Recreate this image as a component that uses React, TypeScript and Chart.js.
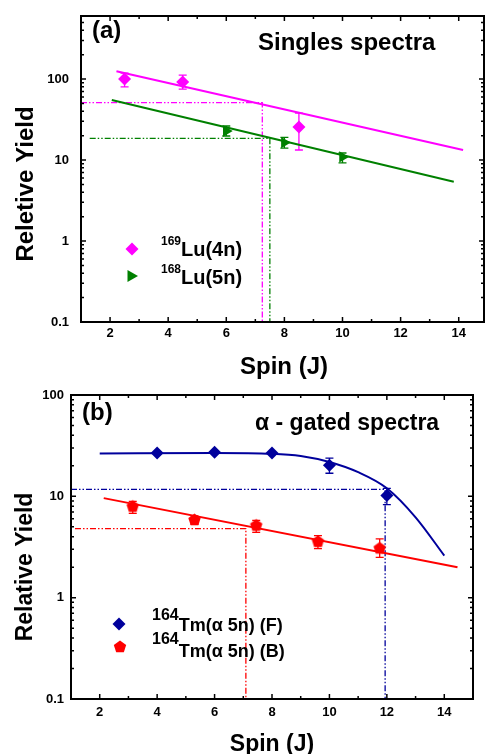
import React, { useEffect, useRef } from 'react';
import { Chart, registerables } from 'chart.js';
Chart.register(...registerables);

const FONT = '"Liberation Sans", Arial, Helvetica, sans-serif';

// ---------- shared ticks ----------
const X_TICKS = [2, 4, 6, 8, 10, 12, 14];
const Y_TICKS = [0.1, 1, 10, 100];

// ---------- panel (a) ----------
const A_X_RANGE = [1, 14.87];
const A_Y_RANGE = [0.1, 600];
const LU169_J = [2.5, 4.5, 8.5];
const LU169_Y = [100, 92, 25.6];
const LU169_LO = [80, 75, 13.3];
const LU169_HI = [118, 112, 38];
const LU168_J = [6, 8, 10];
const LU168_Y = [22.8, 16.4, 10.9];
const LU168_LO = [19.8, 14, 9.2];
const LU168_HI = [26.3, 19, 12.2];
const FIT169_J = [2.22, 14.15];
const FIT169_Y = [125, 13.3];
const FIT168_J = [2.06, 13.83];
const FIT168_Y = [55, 5.4];
const GUIDE169_J = [1, 7.24, 7.24];
const GUIDE169_Y = [51, 51, 0.1];
const GUIDE168_J = [1.3, 7.5, 7.5];
const GUIDE168_Y = [18.5, 18.5, 0.1];

// ---------- panel (b) ----------
const B_X_RANGE = [1, 15];
const B_Y_RANGE = [0.1, 100];
const TMF_J = [4, 6, 8, 10, 12];
const TMF_Y = [26.7, 27.2, 26.7, 20.3, 10.2];
const TMF_LO = [26, 26.5, 26, 16.9, 8.3];
const TMF_HI = [27.4, 27.9, 27.4, 23.8, 12.0];
const TMB_J = [3.15, 5.3, 7.45, 9.6, 11.75];
const TMB_Y = [8.0, 5.9, 5.2, 3.6, 3.1];
const TMB_LO = [6.8, 5.3, 4.4, 3.05, 2.5];
const TMB_HI = [8.9, 6.4, 5.8, 4.1, 3.8];
const CURVE_F_J = [2, 6, 8, 9, 10, 11, 12, 13, 14];
const CURVE_F_Y = [26.5, 26.8, 26.3, 25, 21.8, 17.3, 12, 6.2, 2.6];
const FIT_B_J = [2.14, 14.46];
const FIT_B_Y = [9.6, 2.0];
const GUIDE_F_J = [1, 11.94, 11.94];
const GUIDE_F_Y = [11.7, 11.7, 0.1];
const GUIDE_B_J = [1.14, 7.09, 7.09];
const GUIDE_B_Y = [4.8, 4.8, 0.1];

const MAG = '#FF00FF';
const GRN = '#008000';
const BLU = '#00009C';
const RED = '#FF0000';
const DASH = [6, 2, 1.5, 2, 1.5, 2];

const pts = (xs: number[], ys: number[]) => xs.map((x, i) => ({ x, y: ys[i] }));

function drawShape(ctx: CanvasRenderingContext2D, shape: string, x: number, y: number, r: number, color: string) {
  ctx.save();
  ctx.fillStyle = color;
  ctx.beginPath();
  if (shape === 'diamond') {
    ctx.moveTo(x, y - r);
    ctx.lineTo(x + r, y);
    ctx.lineTo(x, y + r);
    ctx.lineTo(x - r, y);
  } else if (shape === 'triRight') {
    ctx.moveTo(x + r, y);
    ctx.lineTo(x - r * 0.5, y - r * 0.866);
    ctx.lineTo(x - r * 0.5, y + r * 0.866);
  } else {
    for (let k = 0; k < 5; k++) {
      const a = -Math.PI / 2 + (k * 2 * Math.PI) / 5;
      const px = x + r * Math.cos(a);
      const py = y + r * Math.sin(a);
      if (k === 0) ctx.moveTo(px, py);
      else ctx.lineTo(px, py);
    }
  }
  ctx.closePath();
  ctx.fill();
  ctx.restore();
}

function pentagonImage(color: string, r: number) {
  const c = document.createElement('canvas');
  const s = Math.ceil(r * 2 + 2);
  c.width = s;
  c.height = s;
  const ctx = c.getContext('2d')!;
  drawShape(ctx, 'pentagon', s / 2, s / 2 + 0.5, r, color);
  return c;
}

type TextItem = { t: string; x: number; y: number; size: number; align?: CanvasTextAlign; rot?: boolean };
type LegendRow = {
  shape: string; color: string; mx: number; my: number; r: number;
  sup: string; supSize: number; supX: number; supY: number;
  main: string; mainSize: number; mainY: number;
};
type ErrSet = { j: number[]; lo: number[]; hi: number[]; color: string };

function decorPlugin(cfg: { errors: ErrSet[]; texts: TextItem[]; legend: LegendRow[] }) {
  return {
    id: 'decor',
    beforeDatasetsDraw(chart: any) {
      const { ctx, scales } = chart;
      const x = scales.x;
      const y = scales.y;
      cfg.errors.forEach((e) => {
        ctx.save();
        ctx.strokeStyle = e.color;
        ctx.lineWidth = 1.3;
        e.j.forEach((j, i) => {
          const px = x.getPixelForValue(j);
          const top = y.getPixelForValue(e.hi[i]);
          const bot = y.getPixelForValue(e.lo[i]);
          ctx.beginPath();
          ctx.moveTo(px, top);
          ctx.lineTo(px, bot);
          ctx.moveTo(px - 4, top);
          ctx.lineTo(px + 4, top);
          ctx.moveTo(px - 4, bot);
          ctx.lineTo(px + 4, bot);
          ctx.stroke();
        });
        ctx.restore();
      });
    },
    afterDraw(chart: any) {
      const { ctx, chartArea: ca, scales } = chart;
      const x = scales.x;
      const y = scales.y;
      ctx.save();
      // ticks (inward)
      ctx.strokeStyle = '#000';
      ctx.lineWidth = 1.5;
      ctx.beginPath();
      for (let v = Math.ceil(x.min); v <= Math.floor(x.max); v++) {
        const px = x.getPixelForValue(v);
        const len = v % 2 === 0 ? 5 : 3;
        ctx.moveTo(px, ca.bottom);
        ctx.lineTo(px, ca.bottom - len);
        ctx.moveTo(px, ca.top);
        ctx.lineTo(px, ca.top + len);
      }
      const d0 = Math.floor(Math.log10(y.min));
      const d1 = Math.ceil(Math.log10(y.max));
      for (let d = d0; d <= d1; d++) {
        for (let k = 1; k <= 9; k++) {
          const v = k * Math.pow(10, d);
          if (v < y.min * 0.999 || v > y.max * 1.001) continue;
          const py = y.getPixelForValue(v);
          const len = k === 1 ? 5 : 3;
          ctx.moveTo(ca.left, py);
          ctx.lineTo(ca.left + len, py);
          ctx.moveTo(ca.right, py);
          ctx.lineTo(ca.right - len, py);
        }
      }
      ctx.stroke();
      // frame
      ctx.lineWidth = 2;
      ctx.strokeRect(ca.left, ca.top, ca.right - ca.left, ca.bottom - ca.top);
      // texts
      ctx.fillStyle = '#000';
      cfg.texts.forEach((t) => {
        ctx.save();
        ctx.font = `bold ${t.size}px ${FONT}`;
        ctx.textAlign = t.align || 'left';
        ctx.textBaseline = 'alphabetic';
        if (t.rot) {
          ctx.translate(t.x, t.y);
          ctx.rotate(-Math.PI / 2);
          ctx.fillText(t.t, 0, 0);
        } else {
          ctx.fillText(t.t, t.x, t.y);
        }
        ctx.restore();
      });
      // legend
      cfg.legend.forEach((row) => {
        drawShape(ctx, row.shape, row.mx, row.my, row.r, row.color);
        ctx.fillStyle = '#000';
        ctx.textAlign = 'left';
        ctx.textBaseline = 'alphabetic';
        ctx.font = `bold ${row.supSize}px ${FONT}`;
        ctx.fillText(row.sup, row.supX, row.supY);
        const w = ctx.measureText(row.sup).width;
        ctx.font = `bold ${row.mainSize}px ${FONT}`;
        ctx.fillText(row.main, row.supX + w, row.mainY);
      });
      ctx.restore();
    },
  };
}

const zeroPad = (s: any) => {
  s.paddingTop = 0;
  s.paddingBottom = 0;
  s.paddingLeft = 0;
  s.paddingRight = 0;
};

function makeScales(xr: number[], yr: number[], xH: number, yW: number, yPad: number, xPad: number) {
  const tickFont = { family: FONT, size: 13, weight: 'bold' as const };
  return {
    x: {
      type: 'linear' as const,
      min: xr[0],
      max: xr[1],
      afterBuildTicks: (s: any) => { s.ticks = X_TICKS.map((v) => ({ value: v })); },
      afterFit: (s: any) => { s.height = xH; zeroPad(s); },
      grid: { display: false, drawTicks: false },
      border: { display: false },
      ticks: { font: tickFont, color: '#000', padding: xPad, maxRotation: 0, autoSkip: false },
    },
    y: {
      type: 'logarithmic' as const,
      min: yr[0],
      max: yr[1],
      afterBuildTicks: (s: any) => { s.ticks = Y_TICKS.map((v) => ({ value: v })); },
      afterFit: (s: any) => { s.width = yW; zeroPad(s); },
      grid: { display: false, drawTicks: false },
      border: { display: false },
      ticks: { font: tickFont, color: '#000', padding: yPad, autoSkip: false, callback: (v: any) => String(v) },
    },
  };
}

function panelA(): any {
  return {
    type: 'scatter',
    data: {
      datasets: [
        { data: pts(LU169_J, LU169_Y), pointStyle: 'rectRot', pointRadius: 6.5, backgroundColor: MAG, borderColor: MAG, borderWidth: 0, showLine: false },
        { data: pts(LU168_J, LU168_Y), pointStyle: 'triangle', rotation: 90, pointRadius: 6.5, backgroundColor: GRN, borderColor: GRN, borderWidth: 0, showLine: false },
        { data: pts(FIT169_J, FIT169_Y), showLine: true, pointRadius: 0, borderColor: MAG, borderWidth: 2 },
        { data: pts(FIT168_J, FIT168_Y), showLine: true, pointRadius: 0, borderColor: GRN, borderWidth: 2 },
        { data: pts(GUIDE169_J, GUIDE169_Y), showLine: true, pointRadius: 0, borderColor: MAG, borderWidth: 1.3, borderDash: DASH },
        { data: pts(GUIDE168_J, GUIDE168_Y), showLine: true, pointRadius: 0, borderColor: GRN, borderWidth: 1.3, borderDash: DASH },
      ],
    },
    options: {
      animation: false,
      responsive: false,
      layout: { autoPadding: false, padding: { top: 16, right: 2, left: 0, bottom: 0 } },
      plugins: { legend: { display: false }, tooltip: { enabled: false } },
      scales: makeScales(A_X_RANGE, A_Y_RANGE, 63, 81, 12, 4),
    },
    plugins: [
      decorPlugin({
        errors: [
          { j: LU169_J, lo: LU169_LO, hi: LU169_HI, color: MAG },
          { j: LU168_J, lo: LU168_LO, hi: LU168_HI, color: GRN },
        ],
        texts: [
          { t: '(a)', x: 92, y: 38, size: 24 },
          { t: 'Singles spectra', x: 258, y: 50, size: 24 },
          { t: 'Spin (J)', x: 284, y: 374, size: 24, align: 'center' },
          { t: 'Reletive Yield', x: 33, y: 184, size: 24, align: 'center', rot: true },
        ],
        legend: [
          { shape: 'diamond', color: MAG, mx: 132, my: 249, r: 6.5, sup: '169', supSize: 12, supX: 161, supY: 245, main: 'Lu(4n)', mainSize: 20, mainY: 256 },
          { shape: 'triRight', color: GRN, mx: 131, my: 276, r: 7, sup: '168', supSize: 12, supX: 161, supY: 273, main: 'Lu(5n)', mainSize: 20, mainY: 284 },
        ],
      }),
    ],
  };
}

function panelB(): any {
  return {
    type: 'scatter',
    data: {
      datasets: [
        { data: pts(TMF_J, TMF_Y), pointStyle: 'rectRot', pointRadius: 6.5, backgroundColor: BLU, borderColor: BLU, borderWidth: 0, showLine: false },
        { data: pts(TMB_J, TMB_Y), pointStyle: pentagonImage(RED, 6.5), pointRadius: 6.5, backgroundColor: RED, borderColor: RED, borderWidth: 0, showLine: false },
        { data: pts(CURVE_F_J, CURVE_F_Y), showLine: true, pointRadius: 0, borderColor: BLU, borderWidth: 2, cubicInterpolationMode: 'monotone' },
        { data: pts(FIT_B_J, FIT_B_Y), showLine: true, pointRadius: 0, borderColor: RED, borderWidth: 2 },
        { data: pts(GUIDE_F_J, GUIDE_F_Y), showLine: true, pointRadius: 0, borderColor: BLU, borderWidth: 1.3, borderDash: DASH },
        { data: pts(GUIDE_B_J, GUIDE_B_Y), showLine: true, pointRadius: 0, borderColor: RED, borderWidth: 1.3, borderDash: DASH },
      ],
    },
    options: {
      animation: false,
      responsive: false,
      layout: { autoPadding: false, padding: { top: 10, right: 13, left: 0, bottom: 0 } },
      plugins: { legend: { display: false }, tooltip: { enabled: false } },
      scales: makeScales(B_X_RANGE, B_Y_RANGE, 55, 71, 7, 6),
    },
    plugins: [
      decorPlugin({
        errors: [
          { j: TMF_J, lo: TMF_LO, hi: TMF_HI, color: BLU },
          { j: TMB_J, lo: TMB_LO, hi: TMB_HI, color: RED },
        ],
        texts: [
          { t: '(b)', x: 82, y: 35, size: 24 },
          { t: 'α - gated spectra', x: 255, y: 45, size: 23 },
          { t: 'Spin (J)', x: 272, y: 366, size: 23, align: 'center' },
          { t: 'Relative Yield', x: 32, y: 182, size: 23, align: 'center', rot: true },
        ],
        legend: [
          { shape: 'diamond', color: BLU, mx: 119, my: 239, r: 6.5, sup: '164', supSize: 16, supX: 152, supY: 235, main: 'Tm(α 5n) (F)', mainSize: 18, mainY: 246 },
          { shape: 'pentagon', color: RED, mx: 120, my: 262, r: 6.5, sup: '164', supSize: 16, supX: 152, supY: 259, main: 'Tm(α 5n) (B)', mainSize: 18, mainY: 272 },
        ],
      }),
    ],
  };
}

export default function App() {
  const refA = useRef<HTMLCanvasElement>(null);
  const refB = useRef<HTMLCanvasElement>(null);
  useEffect(() => {
    const a = new Chart(refA.current!, panelA());
    const b = new Chart(refB.current!, panelB());
    return () => {
      a.destroy();
      b.destroy();
    };
  }, []);
  return (
    <div style={{ position: 'absolute', left: 0, top: 0, width: 486, height: 754, background: '#fff', overflow: 'hidden' }}>
      <canvas ref={refA} width={486} height={385} style={{ position: 'absolute', left: 0, top: 0, width: 486, height: 385 }} />
      <canvas ref={refB} width={486} height={369} style={{ position: 'absolute', left: 0, top: 385, width: 486, height: 369 }} />
    </div>
  );
}
